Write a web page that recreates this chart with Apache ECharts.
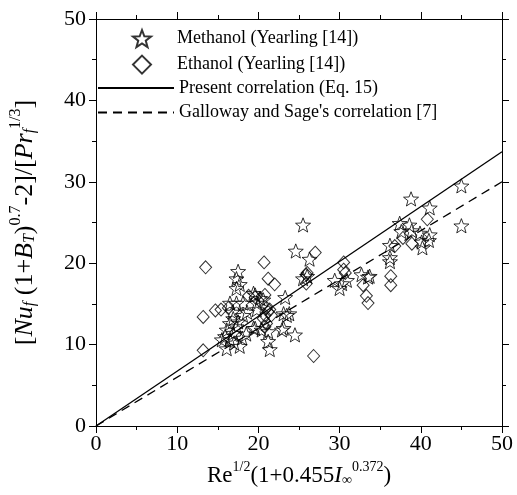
<!DOCTYPE html>
<html><head><meta charset="utf-8">
<script src="https://cdn.jsdelivr.net/npm/echarts@6/dist/echarts.min.js"></script>
<style>html,body{margin:0;padding:0;background:#fff}#c{width:517px;height:495px}</style>
</head><body><div id="c"></div>
<script>
// ---- data ----
const xTicks = [0, 10, 20, 30, 40, 50];
const yTicks = [0, 10, 20, 30, 40, 50];
const methanolName = 'Methanol (Yearling [14])';
const ethanolName = 'Ethanol (Yearling [14])';
const presentName = 'Present correlation (Eq. 15)';
const gallowayName = "Galloway and Sage's correlation [7]";
const methanol = [
 [45.0,29.5],[45.0,24.6],[38.8,27.9],[41.1,26.8],[37.4,24.9],[38.6,24.7],[37.6,23.9],[38.9,24.0],
 [39.9,23.7],[41.1,23.5],[41.0,22.8],[40.1,22.6],[40.2,21.9],[36.2,22.2],[36.2,20.7],[36.2,20.2],
 [33.7,18.4],[33.5,18.3],[32.7,18.6],[30.9,17.9],[30.3,17.5],[29.4,17.9],[30.0,16.9],[25.5,24.7],
 [24.6,21.5],[26.3,20.5],[25.5,18.1],[26.0,18.4],[17.5,19.0],[17.3,18.1],[17.7,17.4],[17.3,16.9],
 [16.5,15.1],[17.3,15.1],[18.1,15.1],[19.4,16.3],[19.6,16.1],[20.2,15.7],[20.6,15.5],[19.8,15.1],
 [19.8,14.3],[23.3,15.8],[23.1,13.8],[23.8,13.8],[23.5,13.6],[16.9,13.2],[16.5,12.6],[17.3,12.2],
 [16.1,11.8],[16.9,11.4],[16.5,10.6],[16.1,9.5],[15.9,11.0],[15.5,10.6],[18.1,13.6],[18.6,14.0],
 [19.4,12.0],[19.6,12.0],[20.4,11.8],[21.2,11.6],[22.9,11.8],[24.5,11.2],[21.2,10.4],[21.4,9.4],
 [23.1,12.0],[17.7,9.8],[18.0,10.8],[17.5,12.8],[18.5,11.3],[16.8,14.0],[17.0,10.2]
];
const ethanol = [
 [13.5,19.5],[13.2,13.4],[14.7,14.2],[15.4,14.3],[16.3,14.5],[13.2,9.3],[20.7,20.1],[21.2,18.1],
 [22.0,17.4],[21.0,14.5],[21.2,14.0],[20.8,13.6],[20.6,13.2],[21.0,12.6],[20.8,12.2],[21.4,14.3],
 [21.6,13.6],[20.8,16.1],[18.8,16.0],[19.6,15.8],[25.9,18.6],[25.9,17.5],[26.0,18.8],[27.0,21.3],
 [26.8,8.6],[30.5,20.1],[30.5,19.2],[30.7,18.8],[32.9,17.3],[33.3,16.0],[33.5,15.1],[36.3,18.4],
 [36.3,17.3],[36.8,22.1],[37.8,23.1],[38.9,22.4],[40.8,25.4]
];
const presentLine = [[0,0],[50,33.7]];
const gallowayLine = [[0,0],[50,30.0]];

// ---- chart ----
const FONT = '"Liberation Serif", "DejaVu Serif", serif';
const STAR = 'path://M0,-100 L24.7,-34 L95.1,-30.9 L39.9,13 L58.8,80.9 L0,42 L-58.8,80.9 L-39.9,13 L-95.1,-30.9 L-24.7,-34 Z';
const chart = echarts.init(document.getElementById('c'), null, {renderer: 'canvas'});

function makeRich(BF, SF, LH) {
  const base = {fontFamily: FONT, fontSize: BF, color: '#000', lineHeight: LH, verticalAlign: 'bottom'};
  return {
    n: Object.assign({}, base),
    i: Object.assign({}, base, {fontStyle: 'italic'}),
    sup: {fontFamily: FONT, fontSize: SF, color: '#000', lineHeight: LH, verticalAlign: 'top'},
    sub: {fontFamily: FONT, fontSize: SF, color: '#000', lineHeight: LH, verticalAlign: 'bottom'},
    subi: {fontFamily: FONT, fontSize: SF, color: '#000', lineHeight: LH, verticalAlign: 'bottom', fontStyle: 'italic'}
  };
}

function axisCommon(ticks) {
  return {
    min: ticks[0], max: ticks[ticks.length - 1], interval: ticks[1] - ticks[0],
    axisLine: {show: true, onZero: false, lineStyle: {color: '#000', width: 1}},
    axisTick: {show: true, inside: false, length: 7, lineStyle: {color: '#000', width: 1}},
    minorTick: {show: true, splitNumber: 2, length: 4, lineStyle: {color: '#000', width: 1}},
    splitLine: {show: false},
    minorSplitLine: {show: false}
  };
}

const option = {
  backgroundColor: '#fff',
  animation: false,
  grid: {left: 96, right: 15, top: 19, bottom: 69, containLabel: false},
  xAxis: [
    Object.assign(axisCommon(xTicks), {
      type: 'value', position: 'bottom',
      axisLabel: {show: true, margin: 7, fontFamily: FONT, fontSize: 22, color: '#000'},
      name: '{n|Re}{sup|1/2}{n|(1+0.455}{i|I}{sub|∞}{sup|0.372}{n|)}',
      nameLocation: 'middle', nameGap: 34,
      nameTextStyle: {rich: makeRich(23, 14, 27)}
    }),
    Object.assign(axisCommon(xTicks), {
      type: 'value', position: 'top', axisLabel: {show: false}
    })
  ],
  yAxis: [
    Object.assign(axisCommon(yTicks), {
      type: 'value', position: 'left',
      axisLabel: {show: true, margin: 10, fontFamily: FONT, fontSize: 22, color: '#000'},
      name: '{n|[}{i|Nu}{subi|f}{n| (1+}{i|B}{subi|T}{n|)}{sup|0.7}{n|-2]/[}{i|Pr}{subi|f}{sup|1/3}{n|]}',
      nameLocation: 'middle', nameGap: 58, nameRotate: 90,
      nameTextStyle: {rich: makeRich(26, 16, 30)}
    }),
    Object.assign(axisCommon(yTicks), {
      type: 'value', position: 'right', axisLabel: {show: false}
    })
  ],
  legend: [
    {
      data: [methanolName, ethanolName],
      orient: 'vertical', left: 127, top: 24, itemWidth: 18, itemHeight: 18, itemGap: 6.5,
      textStyle: {fontFamily: FONT, fontSize: 18, color: '#000', padding: [0,0,0,21]}
    },
    {
      data: [presentName, gallowayName],
      orient: 'vertical', left: 92, top: 74, itemWidth: 76, itemHeight: 18, itemGap: 6.5,
      textStyle: {fontFamily: FONT, fontSize: 18, color: '#000'},
      itemStyle: {opacity: 0}
    }
  ],
  series: [
    {
      name: methanolName, type: 'scatter', data: methanol, symbol: STAR, symbolSize: 15,
      symbolKeepAspect: true,
      itemStyle: {color: 'transparent', borderColor: '#000', borderWidth: 1}
    },
    {
      name: ethanolName, type: 'scatter', data: ethanol, symbol: 'diamond', symbolSize: [12, 13],
      itemStyle: {color: 'transparent', borderColor: '#000', borderWidth: 1}
    },
    {
      name: presentName, type: 'line', data: presentLine, symbol: 'none', z: 1,
      lineStyle: {color: '#000', width: 1.3, type: 'solid'}, itemStyle: {color: '#000'}
    },
    {
      name: gallowayName, type: 'line', data: gallowayLine, symbol: 'none', z: 1,
      lineStyle: {color: '#000', width: 1.3, type: [9, 6]}, itemStyle: {color: '#000'}
    }
  ]
};
chart.setOption(option);
</script>
</body></html>
